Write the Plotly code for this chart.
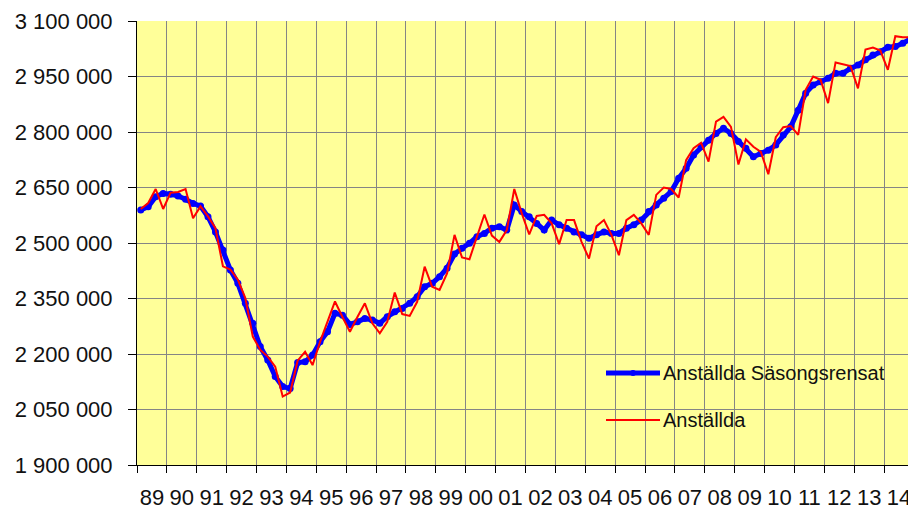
import plotly.graph_objects as go

# Quarterly periods 1989Q1 .. 2014Q4
years = list(range(1989, 2015))
year_labels = ["89", "90", "91", "92", "93", "94", "95", "96", "97", "98", "99", "00", "01",
               "02", "03", "04", "05", "06", "07", "08", "09", "10", "11", "12", "13", "14"]
periods = [f"{y}Q{q}" for y in years for q in range(1, 5)]

anstallda = [
    2592000, 2608000, 2646000, 2592000, 2636000, 2638000, 2646000, 2567000,
    2599000, 2572000, 2540000, 2437000, 2428000, 2401000, 2351000, 2247000,
    2211000, 2193000, 2166000, 2085000, 2096000, 2182000, 2206000, 2170000,
    2233000, 2288000, 2342000, 2300000, 2260000, 2300000, 2337000, 2283000,
    2256000, 2287000, 2366000, 2308000, 2303000, 2341000, 2436000, 2382000,
    2373000, 2418000, 2522000, 2461000, 2456000, 2517000, 2577000, 2520000,
    2503000, 2535000, 2646000, 2580000, 2523000, 2573000, 2576000, 2553000,
    2497000, 2562000, 2562000, 2503000, 2458000, 2545000, 2562000, 2522000,
    2467000, 2562000, 2576000, 2553000, 2522000, 2630000, 2650000, 2646000,
    2623000, 2724000, 2756000, 2771000, 2720000, 2828000, 2841000, 2814000,
    2712000, 2780000, 2760000, 2746000, 2686000, 2786000, 2813000, 2816000,
    2792000, 2914000, 2950000, 2941000, 2878000, 2988000, 2983000, 2978000,
    2918000, 3023000, 3028000, 3020000, 2968000, 3059000, 3056000, 3056000,
]

sasongsrensat = [
    2589000, 2598000, 2625000, 2634000, 2632000, 2627000, 2618000, 2607000,
    2600000, 2571000, 2530000, 2481000, 2427000, 2391000, 2337000, 2283000,
    2220000, 2184000, 2139000, 2112000, 2107000, 2177000, 2179000, 2197000,
    2233000, 2260000, 2310000, 2305000, 2280000, 2287000, 2296000, 2292000,
    2283000, 2301000, 2314000, 2323000, 2337000, 2355000, 2382000, 2391000,
    2409000, 2432000, 2470000, 2486000, 2499000, 2517000, 2526000, 2540000,
    2544000, 2535000, 2603000, 2585000, 2571000, 2553000, 2535000, 2562000,
    2549000, 2540000, 2530000, 2522000, 2513000, 2522000, 2530000, 2526000,
    2526000, 2540000, 2549000, 2562000, 2585000, 2603000, 2621000, 2639000,
    2675000, 2702000, 2738000, 2760000, 2778000, 2796000, 2810000, 2796000,
    2774000, 2756000, 2733000, 2742000, 2751000, 2765000, 2792000, 2814000,
    2859000, 2905000, 2927000, 2936000, 2945000, 2959000, 2959000, 2972000,
    2981000, 2995000, 3008000, 3017000, 3029000, 3031000, 3040000, 3051000,
]

y_ticks = [1900000, 2050000, 2200000, 2350000, 2500000, 2650000, 2800000, 2950000, 3100000]
y_tick_labels = ["1 900 000", "2 050 000", "2 200 000", "2 350 000", "2 500 000",
                 "2 650 000", "2 800 000", "2 950 000", "3 100 000"]

# decimal-year position of each quarter (centre of the quarter)
xpos = [int(p[:4]) + (int(p[-1]) - 0.5) / 4 for p in periods]

FONT = "Liberation Sans Narrow, Arial Narrow, Liberation Sans, Arial, sans-serif"
FS = 22

# the page body has an 8px margin, so the figure is offset by 8px in the window
ML, MR, MT, MB = 129, 10, 13, 54
PW = 916 - ML - MR   # 777
PH = 511 - MT - MB   # 444

fig = go.Figure()
fig.add_trace(go.Scatter(
    x=xpos, y=sasongsrensat, mode="lines+markers", name="Anställda Säsongsrensat",
    line=dict(color="#0000FF", width=5), marker=dict(color="#0000FF", size=7),
    showlegend=False,
))
fig.add_trace(go.Scatter(
    x=xpos, y=anstallda, mode="lines", name="Anställda",
    line=dict(color="#FF0000", width=2), showlegend=False,
))

fig.update_layout(
    width=916, height=511,
    margin=dict(l=ML, r=MR, t=MT, b=MB),
    paper_bgcolor="white",
    plot_bgcolor="#FFFF99",
    font=dict(family=FONT, size=FS, color="#111111"),
)

fig.update_xaxes(
    range=[1989, 2015], automargin=False,
    tickvals=[y + 0.5 for y in years], ticktext=year_labels,
    ticks="outside", ticklen=13, tickcolor="rgba(0,0,0,0)",
    showgrid=False, zeroline=False,
    showline=True, linecolor="black", linewidth=1,
    minor=dict(tickvals=years + [2015], ticks="outside", ticklen=7, tickcolor="black",
               showgrid=True, gridcolor="#858585", gridwidth=1),
)
fig.update_yaxes(
    range=[1900000, 3100000], automargin=False,
    tickvals=y_ticks, ticktext=y_tick_labels,
    ticks="outside", ticklen=8, tickcolor="black",
    ticklabelstandoff=11,
    showgrid=True, gridcolor="#858585", gridwidth=1, zeroline=False,
    showline=True, linecolor="black", linewidth=1,
)

# Legend drawn inside plot area (window coordinates of the reference: plot at x 137..914, y 21..465)
def px(xw):
    return (xw - 137) / PW

def py(yw):
    return (465 - yw) / PH

leg = [("Anställda Säsongsrensat", "#0000FF", 5, 373), ("Anställda", "#FF0000", 2, 420)]
for name, col, w, yw in leg:
    fig.add_shape(type="line", xref="paper", yref="paper",
                  x0=px(606), x1=px(660), y0=py(yw), y1=py(yw),
                  line=dict(color=col, width=w))
    fig.add_annotation(xref="paper", yref="paper", x=px(661), y=py(yw),
                       text=name, showarrow=False, xanchor="left", yanchor="middle",
                       font=dict(family=FONT, size=20, color="#111111"))
fig.add_shape(type="circle", xref="paper", yref="paper",
              x0=px(630), x1=px(636), y0=py(376), y1=py(370),
              fillcolor="#0000FF", line=dict(color="#0000FF", width=0))

fig.write_html("out.html")
